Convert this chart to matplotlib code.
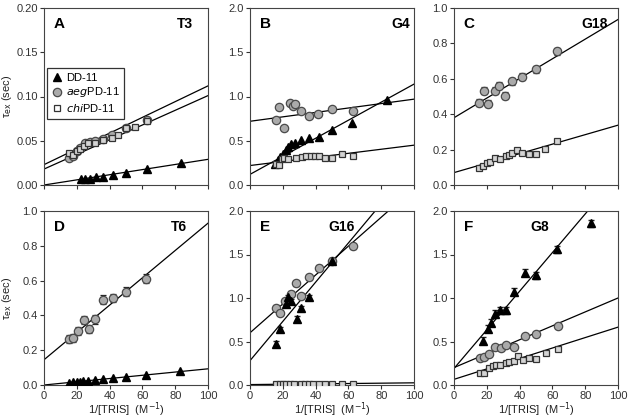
import matplotlib.pyplot as plt
import numpy as np

plt.rcParams["font.family"] = ["Liberation Sans", "DejaVu Sans"]

# ---- data: x = 1/[TRIS] (M^-1), y = tau_ex (sec) ----
# Panel A (T3)
a_dd_x = [22.5, 25.3, 28.1, 31.7, 36.1, 41.8, 50.2, 62.7, 83.5]
a_dd_y = [0.0064, 0.0064, 0.007, 0.0094, 0.0094, 0.0117, 0.014, 0.0177, 0.0245]
a_aeg_x = [15.5, 17.5, 20.0, 22.0, 25.0, 28.0, 31.0, 36.0, 41.7, 50.0, 62.5]
a_aeg_y = [0.030, 0.033, 0.038, 0.042, 0.048, 0.049, 0.050, 0.052, 0.057, 0.064, 0.073]
a_chi_x = [15.4, 17.9, 20.0, 22.2, 24.4, 27.0, 31.3, 35.7, 41.7, 45.0, 50.0, 55.5, 62.5]
a_chi_y = [0.036, 0.034, 0.038, 0.041, 0.044, 0.047, 0.048, 0.051, 0.053, 0.056, 0.064, 0.065, 0.072]

# Panel B (G4)
b_dd_x = [15.0, 17.0, 18.5, 20.0, 21.7, 23.3, 25.3, 27.7, 31.0, 35.7, 41.8, 50.2, 62.2, 83.3]
b_dd_y = [0.24, 0.28, 0.32, 0.35, 0.39, 0.43, 0.46, 0.48, 0.51, 0.53, 0.545, 0.62, 0.70, 0.965]
b_aeg_x = [15.7, 17.7, 21.0, 24.5, 26.1, 27.7, 31.1, 35.7, 41.4, 50.2, 62.7]
b_aeg_y = [0.74, 0.88, 0.645, 0.93, 0.89, 0.91, 0.84, 0.78, 0.80, 0.86, 0.84]
b_chi_x = [15.7, 17.7, 19.3, 21.0, 23.3, 28.0, 31.7, 34.0, 37.0, 39.8, 42.0, 45.8, 50.2, 55.8, 62.7]
b_chi_y = [0.24, 0.23, 0.29, 0.30, 0.29, 0.30, 0.32, 0.33, 0.33, 0.33, 0.33, 0.31, 0.31, 0.35, 0.33]

# Panel C (G18)
c_aeg_x = [15.5, 18.1, 20.7, 25.2, 27.6, 31.2, 35.6, 41.6, 49.7, 62.6]
c_aeg_y = [0.466, 0.532, 0.46, 0.532, 0.56, 0.504, 0.585, 0.611, 0.655, 0.755]
c_chi_x = [15.5, 17.5, 20.1, 22.1, 24.7, 28.2, 31.6, 33.6, 35.6, 38.2, 41.6, 45.7, 49.7, 55.3, 62.6]
c_chi_y = [0.098, 0.108, 0.123, 0.13, 0.155, 0.149, 0.164, 0.168, 0.183, 0.196, 0.183, 0.174, 0.177, 0.202, 0.249]

# Panel D (T6)
d_dd_x = [15.2, 17.6, 20.0, 22.0, 24.0, 27.0, 31.3, 35.8, 41.8, 49.9, 62.4, 83.2]
d_dd_y = [0.012, 0.015, 0.017, 0.019, 0.021, 0.024, 0.028, 0.034, 0.040, 0.048, 0.060, 0.082]
d_aeg_x = [15.2, 17.6, 20.6, 24.6, 27.3, 31.3, 35.8, 41.8, 49.9, 62.4]
d_aeg_y = [0.264, 0.27, 0.31, 0.373, 0.322, 0.377, 0.49, 0.50, 0.537, 0.612]

# Panel E (G16)
e_dd_x = [15.7, 18.1, 21.7, 23.1, 25.1, 28.5, 31.3, 35.7, 50.2]
e_dd_y = [0.477, 0.64, 0.93, 1.01, 0.96, 0.76, 0.88, 1.01, 1.43]
e_aeg_x = [15.7, 18.1, 21.1, 25.1, 28.1, 31.1, 35.7, 41.8, 50.2, 62.7]
e_aeg_y = [0.89, 0.83, 0.96, 1.05, 1.17, 1.02, 1.24, 1.35, 1.43, 1.595]
e_chi_x = [15.7, 18.1, 20.0, 22.2, 24.4, 27.0, 31.3, 33.6, 35.7, 38.2, 41.8, 45.7, 50.2, 55.8, 62.7]
e_chi_y = [0.008, 0.008, 0.009, 0.010, 0.010, 0.011, 0.011, 0.012, 0.012, 0.012, 0.013, 0.013, 0.014, 0.015, 0.016]

# Panel F (G8)
f_dd_x = [17.6, 20.8, 22.8, 25.3, 28.3, 31.7, 36.4, 43.0, 49.9, 62.6, 83.8]
f_dd_y = [0.51, 0.644, 0.715, 0.82, 0.86, 0.86, 1.07, 1.29, 1.26, 1.56, 1.86]
f_aeg_x = [15.6, 18.2, 21.2, 25.3, 28.9, 31.7, 36.4, 43.0, 49.9, 63.2]
f_aeg_y = [0.305, 0.32, 0.36, 0.437, 0.425, 0.456, 0.437, 0.565, 0.584, 0.674]
f_chi_x = [15.6, 18.2, 21.2, 23.6, 25.7, 28.3, 31.7, 33.7, 36.4, 39.0, 41.8, 45.9, 49.9, 56.0, 63.2]
f_chi_y = [0.135, 0.143, 0.19, 0.215, 0.23, 0.23, 0.25, 0.27, 0.28, 0.33, 0.286, 0.31, 0.30, 0.365, 0.41]

# linear fits (intercept, slope)
a_fits = [(0.0, 0.00029), (0.023, 0.00089), (0.018, 0.00083)]
b_fits = [(0.12, 0.0102), (0.72, 0.0025), (0.22, 0.0023)]
c_fits = [(0.38, 0.00555), (0.07, 0.00268)]
d_fits = [(0.0, 0.00093), (0.145, 0.00785)]
e_fits = [(0.28, 0.02254), (0.60, 0.0166), (0.005, 0.0002)]
f_fits = [(0.19, 0.0222), (0.20, 0.0080), (0.065, 0.0060)]

DD = dict(marker="^", mfc="black", mec="black", ms=6)
AEG = dict(marker="o", mfc="#aaaaaa", mec="#4a4a4a", ms=6, mew=0.9)
CHI = dict(marker="s", mfc="#d4d4d4", mec="#333333", ms=5, mew=0.9)

panels = [
    ("A", "T3", 0.86, [0, 0.2], np.arange(0, 0.201, 0.05), "%.2f",
     [(a_dd_x, a_dd_y, DD, 0.0), (a_aeg_x, a_aeg_y, AEG, 0.002), (a_chi_x, a_chi_y, CHI, 0.001)], a_fits),
    ("B", "G4", 0.92, [0, 2], np.arange(0, 2.01, 0.5), "%.1f",
     [(b_aeg_x, b_aeg_y, AEG, 0.02), (b_dd_x, b_dd_y, DD, 0.0), (b_chi_x, b_chi_y, CHI, 0.01)], b_fits),
    ("C", "G18", 0.86, [0, 1], np.arange(0, 1.01, 0.2), "%.1f",
     [(c_aeg_x, c_aeg_y, AEG, 0.02), (c_chi_x, c_chi_y, CHI, 0.006)], c_fits),
    ("D", "T6", 0.82, [0, 1], np.arange(0, 1.01, 0.2), "%.1f",
     [(d_dd_x, d_dd_y, DD, 0.0), (d_aeg_x, d_aeg_y, AEG, 0.025)], d_fits),
    ("E", "G16", 0.56, [0, 2], np.arange(0, 2.01, 0.5), "%.1f",
     [(e_chi_x, e_chi_y, CHI, 0.0), (e_aeg_x, e_aeg_y, AEG, 0.03), (e_dd_x, e_dd_y, DD, 0.03)], e_fits),
    ("F", "G8", 0.52, [0, 2], np.arange(0, 2.01, 0.5), "%.1f",
     [(f_chi_x, f_chi_y, CHI, 0.01), (f_aeg_x, f_aeg_y, AEG, 0.01), (f_dd_x, f_dd_y, DD, 0.04)], f_fits),
]

fig = plt.figure(figsize=(6.28, 4.2), dpi=100)
lefts = [44 / 628, 250 / 628, 454 / 628]
w = 164 / 628
# (bottom, height) for the two rows, in figure fractions
rows = [(1 - 185 / 420, 177 / 420), (1 - 385 / 420, 174 / 420)]

line_x = np.array([0, 100])
for i, (letter, name, name_x, ylim, yticks, fmt, series, fits) in enumerate(panels):
    bottom, h = rows[i // 3]
    ax = fig.add_axes([lefts[i % 3], bottom, w, h])
    for icpt, slope in fits:
        ax.plot(line_x, icpt + slope * line_x, color="black", lw=0.9, zorder=2)
    for xs, ys, style, err in series:
        ax.errorbar(xs, ys, yerr=err if err else None, ls="none", ecolor="#222222",
                    elinewidth=0.8, capsize=2, zorder=3, **style)
    ax.set_xlim(0, 100)
    ax.set_ylim(*ylim)
    ax.set_yticks(yticks)
    ax.set_yticklabels([fmt % t for t in yticks])
    ax.set_xticks(np.arange(0, 101, 20))
    if i < 3:
        ax.set_xticklabels([])
    else:
        ax.set_xlabel("1/[TRIS]  (M$^{-1}$)", fontsize=8, color="#222222")
        ax.xaxis.set_label_coords(0.5, -0.088)
        ax.xaxis.label.set_va("top")
    ax.tick_params(direction="out", length=3, width=0.8, labelsize=8, colors="#333333", pad=1.5)
    for sp in ax.spines.values():
        sp.set_color("#444444")
        sp.set_linewidth(0.8)
    ax.text(0.06, 0.91, letter, transform=ax.transAxes, fontsize=11, fontweight="bold",
            va="center", ha="left")
    ax.text(name_x, 0.91, name, transform=ax.transAxes, fontsize=10, fontweight="bold",
            va="center", ha="center")
    if i % 3 == 0:
        ax.set_ylabel("τ$_{\\rm ex}$ (sec)", fontsize=8, color="#222222")
        ax.yaxis.set_label_coords(-0.225, 0.5)
        ax.yaxis.label.set_va("center")
    if i == 0:
        handles = [
            plt.Line2D([], [], ls="none", **DD),
            plt.Line2D([], [], ls="none", **AEG),
            plt.Line2D([], [], ls="none", marker="s", mfc="white", mec="#333333", ms=5, mew=0.9),
        ]
        labels = ["DD-11", "$\\it{aeg}$PD-11", "$\\it{chi}$PD-11"]
        leg = ax.legend(handles, labels, loc="upper left", bbox_to_anchor=(0.02, 0.66),
                        fontsize=8, frameon=True, fancybox=False, handletextpad=0.3,
                        handlelength=1.0, borderpad=0.4, labelspacing=0.25, borderaxespad=0)
        leg.get_frame().set_edgecolor("black")
        leg.get_frame().set_linewidth(0.9)

fig.savefig("out.png", dpi=100)
